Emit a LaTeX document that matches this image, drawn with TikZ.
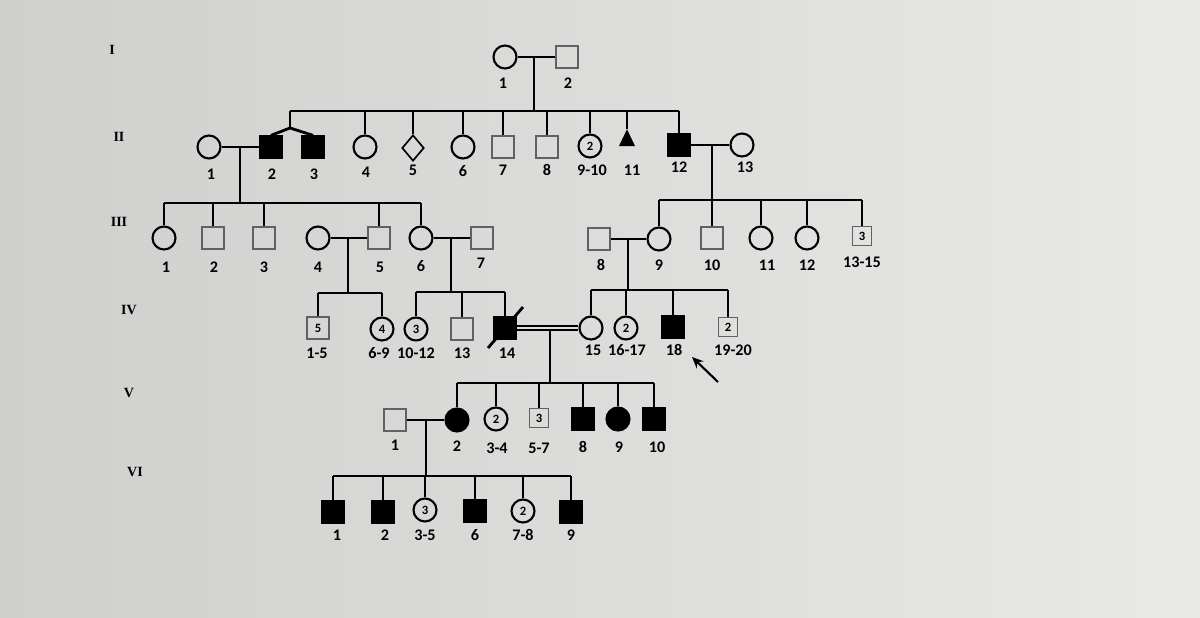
\documentclass[tikz,border=0pt]{standalone}
\usepackage{fontspec}
\newfontfamily\carl{Carlito}
\newfontfamily\tms{Liberation Serif}
\usetikzlibrary{arrows.meta, shapes.geometric}
\definecolor{bgc}{RGB}{221,221,219}
\definecolor{bgl}{RGB}{233,233,231}
\definecolor{bgd}{RGB}{207,207,205}

\begin{document}
\begin{tikzpicture}[
    x=0.025cm, y=-0.025cm,
    lnk/.style={line width=2pt},
    msq/.style={rectangle, draw=black!62, line width=1.2pt, minimum size=5.4mm,
        inner sep=0pt, font={\carl\bfseries\fontsize{9}{10}\selectfont}},
    fcir/.style={circle, draw=black, line width=1.5pt, minimum size=5.75mm,
        inner sep=0pt, font={\carl\bfseries\fontsize{9}{10}\selectfont}},
    aff/.style={fill=black, draw=black},
    tri/.style={isosceles triangle, shape border rotate=90, isosceles triangle stretches,
        minimum width=4mm, minimum height=4.2mm, inner sep=0pt, fill=black},
    unk/.style={diamond, draw=black, line width=1.2pt, minimum width=5.5mm,
        minimum height=6.5mm, inner sep=0pt},
    num/.style={font={\carl\bfseries\fontsize{11.5}{13}\selectfont}, inner sep=0pt},
    gen/.style={font={\tms\bfseries\fontsize{10}{11}\selectfont}, inner sep=0pt}
]
    \fill[left color=bgd, right color=bgl] (0,0) rectangle (1200,617);

    % generation labels
    \node[gen] (gI) at (112,50) {I};
    \node[gen] (gII) at (119,137) {II};
    \node[gen] (gIII) at (119,222) {III};
    \node[gen] (gIV) at (129,310) {IV};
    \node[gen] (gV) at (129,393) {V};
    \node[gen] (gVI) at (135,472) {VI};

    % generation I
    \node[fcir] (I1) at (505,57) {};
    \node[msq] (I2) at (567,57) {};
    \node[num] at (503,83) {1};
    \node[num] at (568,83) {2};

    % generation II
    \node[fcir] (II1) at (209,147) {};
    \node[msq, aff] (II2) at (271,147) {};
    \node[msq, aff] (II3) at (313,147) {};
    \node[fcir] (II4) at (365,147) {};
    \node[unk] (II5) at (413,148) {};
    \node[fcir] (II6) at (463,147) {};
    \node[msq] (II7) at (503,147) {};
    \node[msq] (II8) at (547,147) {};
    \node[fcir] (II9) at (590,146) {2};
    \node[tri] (II11) at (627,141) {};
    \node[msq, aff] (II12) at (679,145) {};
    \node[fcir] (II13) at (742,145) {};
    \node[num] at (211,174) {1};
    \node[num] at (272,174) {2};
    \node[num] at (314,174) {3};
    \node[num] at (366,172) {4};
    \node[num] at (413,170) {5};
    \node[num] at (463,171) {6};
    \node[num] at (503,170) {7};
    \node[num] at (547,170) {8};
    \node[num] at (592,170) {9-10};
    \node[num] at (632,170) {11};
    \node[num] at (679,167) {12};
    \node[num] at (745,167) {13};

    % generation III
    \node[fcir] (III1) at (164,238) {};
    \node[msq] (III2) at (213,238) {};
    \node[msq] (III3) at (264,238) {};
    \node[fcir] (III4) at (318,238) {};
    \node[msq] (III5) at (379,238) {};
    \node[fcir] (III6) at (421,238) {};
    \node[msq] (III7) at (482,238) {};
    \node[msq] (III8) at (599,239) {};
    \node[fcir] (III9) at (659,239) {};
    \node[msq] (III10) at (712,238) {};
    \node[fcir] (III11) at (761,238) {};
    \node[fcir] (III12) at (807,238) {};
    \node[msq, minimum size=4.8mm] (III13) at (862,236) {3};
    \node[num] at (166,267) {1};
    \node[num] at (214,267) {2};
    \node[num] at (264,267) {3};
    \node[num] at (318,267) {4};
    \node[num] at (380,267) {5};
    \node[num] at (421,266) {6};
    \node[num] at (481,263) {7};
    \node[num] at (601,265) {8};
    \node[num] at (659,265) {9};
    \node[num] at (712,265) {10};
    \node[num] at (767,265) {11};
    \node[num] at (807,265) {12};
    \node[num] at (862,262) {13-15};

    % generation IV
    \node[msq] (IV1) at (318,328) {5};
    \node[fcir] (IV6) at (382,329) {4};
    \node[fcir] (IV10) at (416,329) {3};
    \node[msq] (IV13) at (462,329) {};
    \node[msq, aff] (IV14) at (505,328) {};
    \node[fcir] (IV15) at (591,328) {};
    \node[fcir] (IV16) at (626,328) {2};
    \node[msq, aff] (IV18) at (673,327) {};
    \node[msq, minimum size=4.8mm] (IV19) at (728,327) {2};
    \node[num] at (317,353) {1-5};
    \node[num] at (379,353) {6-9};
    \node[num] at (416,353) {10-12};
    \node[num] at (462,353) {13};
    \node[num] at (507,353) {14};
    \node[num] at (593,350) {15};
    \node[num] at (627,350) {16-17};
    \node[num] at (674,350) {18};
    \node[num] at (733,350) {19-20};

    % generation V
    \node[msq] (V1) at (395,420) {};
    \node[fcir, aff] (V2) at (457,420) {};
    \node[fcir] (V3) at (496,419) {2};
    \node[msq, minimum size=4.8mm] (V5) at (539,418) {3};
    \node[msq, aff] (V8) at (583,419) {};
    \node[fcir, aff] (V9) at (618,419) {};
    \node[msq, aff] (V10) at (654,419) {};
    \node[num] at (395,445) {1};
    \node[num] at (457,446) {2};
    \node[num] at (497,448) {3-4};
    \node[num] at (539,448) {5-7};
    \node[num] at (583,447) {8};
    \node[num] at (619,447) {9};
    \node[num] at (657,447) {10};

    % generation VI
    \node[msq, aff] (VI1) at (333,512) {};
    \node[msq, aff] (VI2) at (383,512) {};
    \node[fcir] (VI3) at (425,510) {3};
    \node[msq, aff] (VI6) at (475,511) {};
    \node[fcir] (VI7) at (523,511) {2};
    \node[msq, aff] (VI9) at (571,512) {};
    \node[num] at (337,535) {1};
    \node[num] at (385,535) {2};
    \node[num] at (425,535) {3-5};
    \node[num] at (475,535) {6};
    \node[num] at (523,535) {7-8};
    \node[num] at (571,535) {9};

    % matings and descent lines
    \coordinate (mI) at (534,57);
    \coordinate (sII) at (534,111);
    \coordinate (tw) at (290,128);
    \draw[lnk] (I1) -- (I2);
    \draw[lnk] (mI) -- (sII);
    \draw[lnk] (tw |- sII) -- (II12 |- sII);
    \draw[lnk] (tw |- sII) -- (tw);
    \draw[lnk] (II2.north) -- (tw) -- (II3.north);
    \draw[lnk] (II4 |- sII) -- (II4.north) (II5 |- sII) -- (II5.north)
        (II6 |- sII) -- (II6.north) (II7 |- sII) -- (II7.north)
        (II8 |- sII) -- (II8.north) (II9 |- sII) -- (II9.north)
        (II11 |- sII) -- (II11.apex) (II12 |- sII) -- (II12.north);

    \coordinate (mII1) at (240,147);
    \coordinate (sIIIa) at (240,203);
    \draw[lnk] (II1) -- (II2);
    \draw[lnk] (mII1) -- (sIIIa);
    \draw[lnk] (III1 |- sIIIa) -- (III6 |- sIIIa);
    \draw[lnk] (III1 |- sIIIa) -- (III1.north) (III2 |- sIIIa) -- (III2.north)
        (III3 |- sIIIa) -- (III3.north) (III5 |- sIIIa) -- (III5.north)
        (III6 |- sIIIa) -- (III6.north);

    \coordinate (mII2) at (712,145);
    \coordinate (sIIIb) at (712,200);
    \draw[lnk] (II12) -- (II13);
    \draw[lnk] (mII2) -- (sIIIb);
    \draw[lnk] (III9 |- sIIIb) -- (III13 |- sIIIb);
    \draw[lnk] (III9 |- sIIIb) -- (III9.north) (III10 |- sIIIb) -- (III10.north)
        (III11 |- sIIIb) -- (III11.north) (III12 |- sIIIb) -- (III12.north)
        (III13 |- sIIIb) -- (III13.north);

    \coordinate (mIII1) at (348,238);
    \coordinate (sIVa) at (348,293);
    \draw[lnk] (III4) -- (III5);
    \draw[lnk] (mIII1) -- (sIVa);
    \draw[lnk] (IV1 |- sIVa) -- (IV6 |- sIVa);
    \draw[lnk] (IV1 |- sIVa) -- (IV1.north) (IV6 |- sIVa) -- (IV6.north);

    \coordinate (mIII2) at (451,238);
    \coordinate (sIVb) at (451,292);
    \draw[lnk] (III6) -- (III7);
    \draw[lnk] (mIII2) -- (sIVb);
    \draw[lnk] (IV10 |- sIVb) -- (IV14 |- sIVb);
    \draw[lnk] (IV10 |- sIVb) -- (IV10.north) (IV13 |- sIVb) -- (IV13.north)
        (IV14 |- sIVb) -- (IV14.north);

    \coordinate (mIII3) at (628,239);
    \coordinate (sIVc) at (628,290);
    \draw[lnk] (III8) -- (III9);
    \draw[lnk] (mIII3) -- (sIVc);
    \draw[lnk] (IV15 |- sIVc) -- (IV19 |- sIVc);
    \draw[lnk] (IV15 |- sIVc) -- (IV15.north) (IV16 |- sIVc) -- (IV16.north)
        (IV18 |- sIVc) -- (IV18.north) (IV19 |- sIVc) -- (IV19.north);

    % consanguineous mating
    \coordinate (mIV) at (550,330);
    \coordinate (sV) at (550,383);
    \draw[line width=1.4pt, double=bgc, double distance=1.8pt] (IV14) -- (IV15);
    \draw[lnk] (mIV) -- (sV);
    \draw[lnk] (V2 |- sV) -- (V10 |- sV);
    \draw[lnk] (V2 |- sV) -- (V2.north) (V3 |- sV) -- (V3.north)
        (V5 |- sV) -- (V5.north) (V8 |- sV) -- (V8.north)
        (V9 |- sV) -- (V9.north) (V10 |- sV) -- (V10.north);
    \draw[lnk] (IV14.center) ++(-17,20) -- ++(35,-41);

    \coordinate (mV) at (426,420);
    \coordinate (sVI) at (426,476);
    \draw[lnk] (V1) -- (V2);
    \draw[lnk] (mV) -- (sVI);
    \draw[lnk] (VI1 |- sVI) -- (VI9 |- sVI);
    \draw[lnk] (VI1 |- sVI) -- (VI1.north) (VI2 |- sVI) -- (VI2.north)
        (VI3 |- sVI) -- (VI3.north) (VI6 |- sVI) -- (VI6.north)
        (VI7 |- sVI) -- (VI7.north) (VI9 |- sVI) -- (VI9.north);

    % proband
    \coordinate (prT) at (718,382);
    \coordinate (prH) at (692,357);
    \draw[line width=1.5pt, -{Stealth[length=8pt, width=7pt]}] (prT) -- (prH);
\end{tikzpicture}
\end{document}
